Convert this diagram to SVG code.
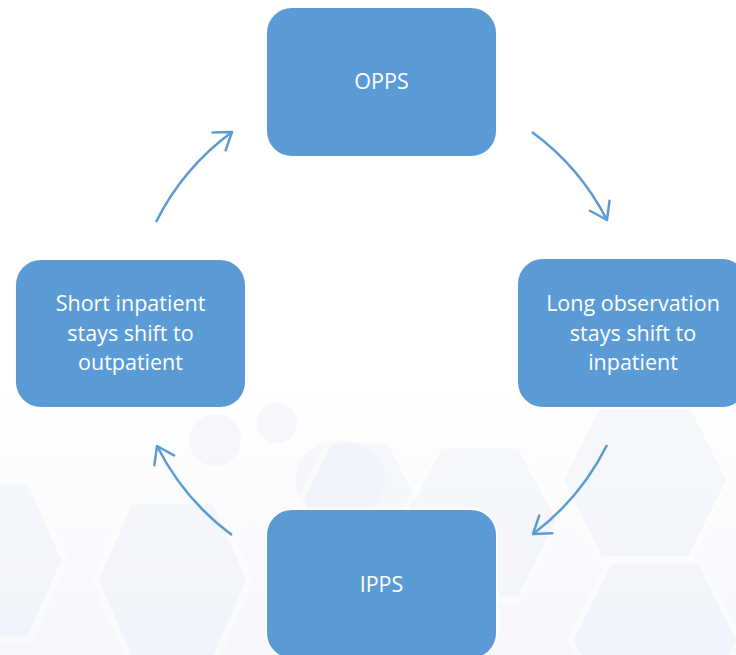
<svg xmlns="http://www.w3.org/2000/svg" width="736" height="655" viewBox="0 0 736 655">
<style>
.box{fill:#5B9BD5;stroke:#FFFFFF;stroke-width:2}
.lbl{font-family:"Open Sans","Noto Sans",sans-serif;font-size:21.5px;fill:#FFFFFF;text-anchor:middle}
.arc{fill:none;stroke:#5B9BD5;stroke-width:2.5}
.hex{fill:#EDF1F9;stroke:#FFFFFF;stroke-width:7;opacity:0.45}
.blob{fill:#EEF0F8;opacity:0.45}
</style>
<defs>
<marker id="ah" markerUnits="userSpaceOnUse" markerWidth="40" markerHeight="40" viewBox="-20 -20 40 40" refX="0" refY="0" orient="auto">
<path d="M-16,-11 L0,0 L-16,11" fill="none" stroke="#5B9BD5" stroke-width="2.5" stroke-linecap="round" stroke-linejoin="round"/>
</marker>
<linearGradient id="bg" x1="0" y1="0" x2="0" y2="1">
<stop offset="0" stop-color="#FFFFFF"/>
<stop offset="0.6" stop-color="#FFFFFF"/>
<stop offset="1" stop-color="#F5F7FB"/>
</linearGradient>
</defs>
<rect width="736" height="655" fill="url(#bg)"/>
<g id="background">
<circle class="blob" cx="215" cy="440" r="26"/>
<circle class="blob" cx="277" cy="423" r="20"/>
<ellipse class="blob" cx="340" cy="480" rx="45" ry="40"/>
<polygon class="hex" points="330,440 390,440 420,500 390,560 330,560 300,500"/>
<polygon class="hex" points="440,445 520,445 560,520 520,600 440,600 400,520"/>
<polygon class="hex" points="600,400 690,400 730,480 690,560 600,560 560,480"/>
<polygon class="hex" points="610,560 700,560 740,640 700,720 610,720 570,640"/>
<polygon class="hex" points="130,500 215,500 250,580 215,660 130,660 95,580"/>
<polygon class="hex" points="-40,480 30,480 65,560 30,640 -40,640 -75,560"/>
</g>
<g id="connectors">
<path class="arc" d="M156,222 A251,251 0 0 1 232,132" marker-end="url(#ah)"/>
<path class="arc" d="M532,132 A251,251 0 0 1 607,220" marker-end="url(#ah)"/>
<path class="arc" d="M607,445 A251,251 0 0 1 533,534" marker-end="url(#ah)"/>
<path class="arc" d="M232,535 A251,251 0 0 1 157,446" marker-end="url(#ah)"/>
</g>
<g id="opps">
<rect class="box" x="266" y="7" width="231" height="150" rx="26"/>
<text class="lbl" x="381.5" y="89">OPPS</text>
</g>
<g id="long-observation">
<rect class="box" x="517" y="258" width="231" height="150" rx="26"/>
<text class="lbl" x="633" y="311">Long observation</text>
<text class="lbl" x="633" y="341">stays shift to</text>
<text class="lbl" x="633" y="370">inpatient</text>
</g>
<g id="short-inpatient">
<rect class="box" x="15" y="259" width="231" height="149" rx="26"/>
<text class="lbl" x="130.5" y="311">Short inpatient</text>
<text class="lbl" x="130.5" y="341">stays shift to</text>
<text class="lbl" x="130.5" y="370">outpatient</text>
</g>
<g id="ipps">
<rect class="box" x="266" y="509" width="231" height="150" rx="26"/>
<text class="lbl" x="381.5" y="592">IPPS</text>
</g>
</svg>
